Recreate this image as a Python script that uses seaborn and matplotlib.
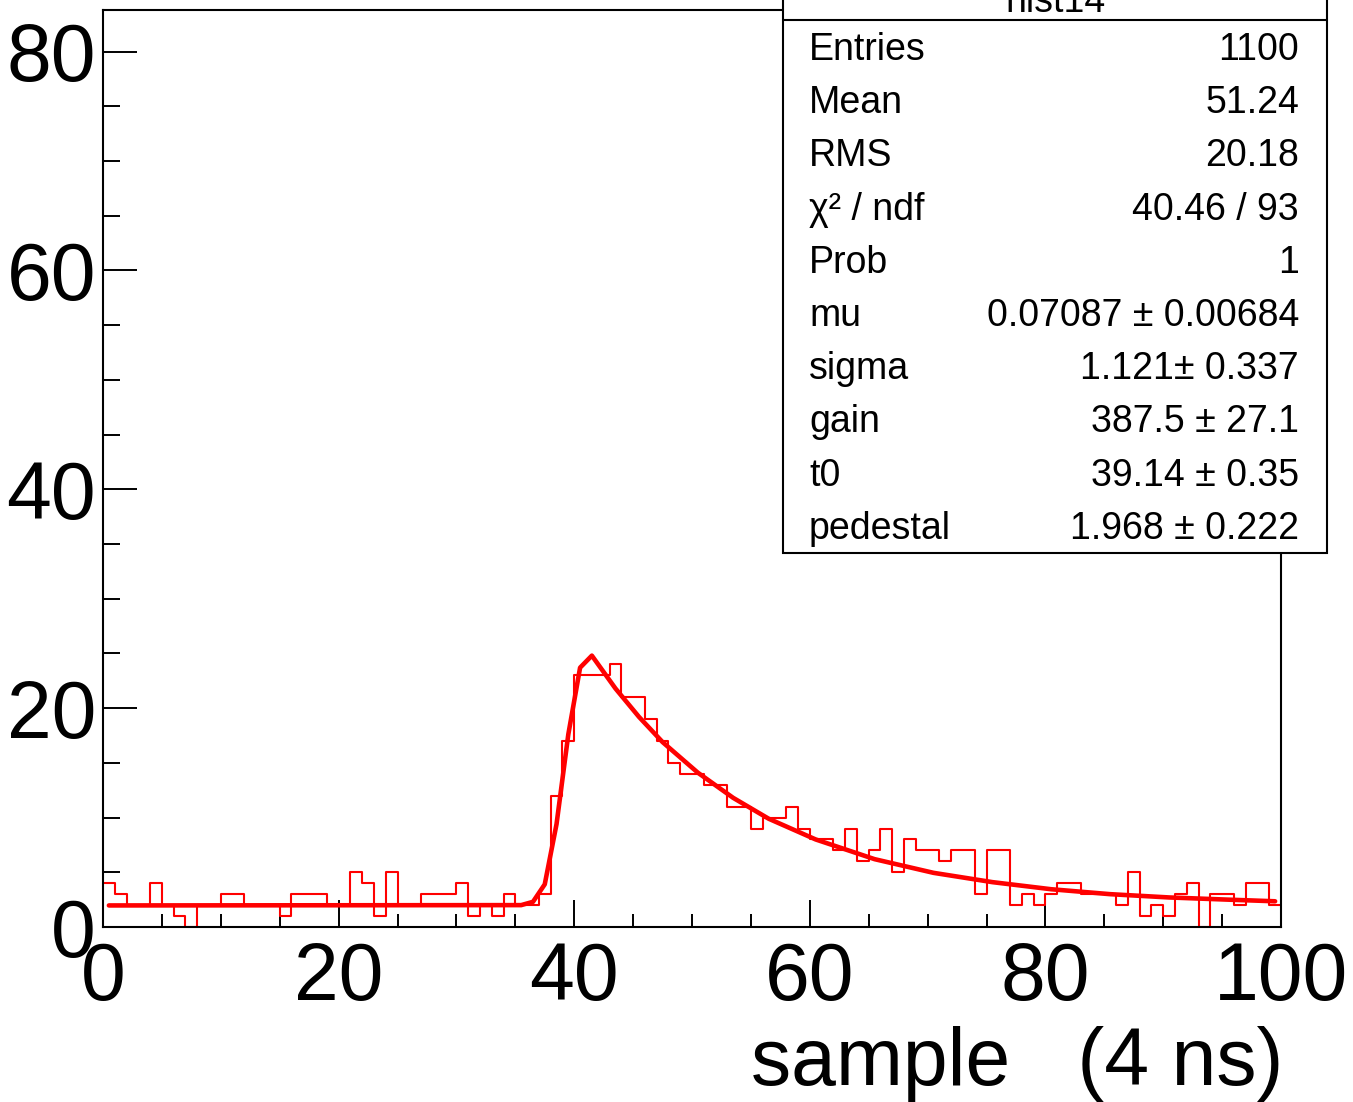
import numpy as np
import matplotlib
matplotlib.use("Agg")
import matplotlib.pyplot as plt
import seaborn as sns
from matplotlib.patches import Rectangle
from matplotlib.lines import Line2D
from matplotlib.ticker import MultipleLocator

# Histogram contents (bin width 1, range 0-100)
counts = [4, 3, 2, 2, 4, 2, 1, 0, 2, 2,
          3, 3, 2, 2, 2, 1, 3, 3, 3, 2,
          2, 5, 4, 1, 5, 2, 2, 3, 3, 3,
          4, 1, 2, 1, 3, 2, 2, 3, 12, 17,
          23, 23, 23, 24, 21, 21, 19, 17, 15, 14,
          14, 13, 13, 11, 11, 9, 10, 10, 11, 9,
          8, 8, 7, 9, 6, 7, 9, 5, 8, 7,
          7, 6, 7, 7, 3, 7, 7, 2, 3, 2,
          3, 4, 4, 3, 3, 3, 2, 5, 1, 2,
          1, 3, 4, 0, 3, 3, 2, 4, 4, 2]
bin_centers = np.arange(len(counts)) + 0.5

# Fitted curve, points
fit_x = [0.5, 35.5, 36.5, 37.5, 38.5, 39.5, 40.5, 41.5, 43.5, 45.5, 47.5,
         50.5, 53.5, 56.5, 60.5, 65.5, 70.5, 75.5, 80.5, 85.5, 90.5, 95.5, 99.5]
fit_y = [1.97, 2.0, 2.3, 3.9, 9.4, 17.6, 23.7, 24.8, 21.8, 19.2, 16.9,
         14.1, 11.8, 9.9, 8.0, 6.2, 4.95, 4.1, 3.45, 3.0, 2.7, 2.5, 2.35]

# Stats box
stat_title = "hist14"
stat_names = ["Entries", "Mean", "RMS", "\u03c7\u00b2 / ndf", "Prob",
              "mu", "sigma", "gain", "t0", "pedestal"]
stat_values = ["1100", "51.24", "20.18", "40.46 / 93", "1",
               "0.07087 \u00b1 0.00684", "1.121\u00b1 0.337", "387.5 \u00b1 27.1",
               "39.14 \u00b1 0.35", "1.968 \u00b1 0.222"]

sns.set_theme(style="white")
plt.rcParams["font.family"] = ["Liberation Sans", "DejaVu Sans"]
plt.rcParams["text.color"] = "black"

W, H = 1353, 1102
fig = plt.figure(figsize=(W / 100, H / 100), dpi=100)
ax = fig.add_axes([103 / W, 1 - 927 / H, (1281 - 103) / W, (927 - 10) / H])

sns.histplot(x=bin_centers, weights=counts, bins=100, binrange=(0, 100),
             element="step", fill=False, color="red", linewidth=1.5, ax=ax)
sns.lineplot(x=fit_x, y=fit_y, color="red", linewidth=3.3, ax=ax)

ax.set_xlim(0, 100)
ax.set_ylim(0, 83.8)
ax.xaxis.set_major_locator(MultipleLocator(20))
ax.xaxis.set_minor_locator(MultipleLocator(5))
ax.yaxis.set_major_locator(MultipleLocator(20))
ax.yaxis.set_minor_locator(MultipleLocator(5))
ax.tick_params(axis="both", which="both", direction="in", color="black",
               width=1.4, labelsize=58, labelcolor="black",
               bottom=True, left=True, top=False, right=False)
ax.tick_params(axis="y", which="major", length=24.5, pad=5)
ax.tick_params(axis="y", which="minor", length=12.2)
ax.tick_params(axis="x", which="major", length=19.5, pad=10)
ax.tick_params(axis="x", which="minor", length=9.5)
ax.set_ylabel("")
for s in ax.spines.values():
    s.set_color("black")
    s.set_linewidth(1.5)

ax.set_xlabel("sample   (4 ns)", fontsize=58, loc="right", color="black")
ax.xaxis.set_label_coords(1.002, -0.108)

# stats box drawn on top of the frame
x0, x1 = 783 / W, 1327 / W
yb = 1 - 553 / H
box = Rectangle((x0, yb), x1 - x0, 1.05 - yb, transform=fig.transFigure,
                facecolor="white", edgecolor="black", linewidth=1.5,
                clip_on=False, zorder=5)
fig.add_artist(box)
fig.add_artist(Line2D([x0, x1], [1 - 20 / H] * 2, transform=fig.transFigure,
                      color="black", linewidth=1.5, zorder=6))
fig.text((x0 + x1) / 2, 1 - 12 / H, stat_title, ha="center", va="baseline",
         fontsize=27, color="black", zorder=7)
for i, (name, val) in enumerate(zip(stat_names, stat_values)):
    yy = 1 - (60 + 53.2 * i) / H
    fig.text(809 / W, yy, name, ha="left", va="baseline", fontsize=27,
             color="black", zorder=7)
    fig.text(1299 / W, yy, val, ha="right", va="baseline", fontsize=27,
             color="black", zorder=7)

fig.savefig("out.png", dpi=100)
